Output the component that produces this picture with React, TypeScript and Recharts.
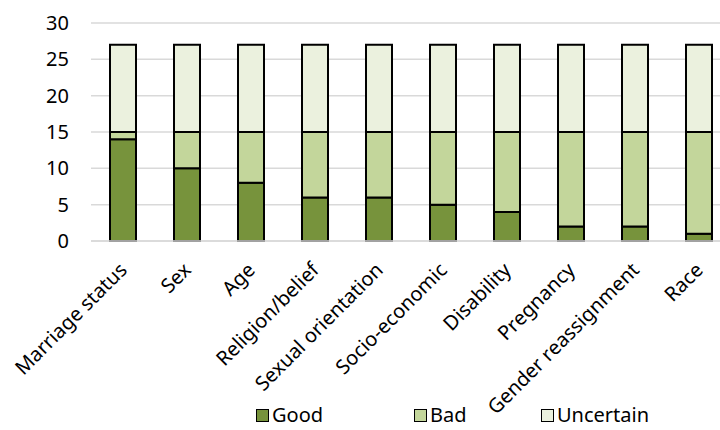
import React from 'react';
import { BarChart, Bar, XAxis, YAxis, CartesianGrid, Legend } from 'recharts';

const categories = [
    'Marriage status',
    'Sex',
    'Age',
    'Religion/belief',
    'Sexual orientation',
    'Socio-economic',
    'Disability',
    'Pregnancy',
    'Gender reassignment',
    'Race',
];
const good = [14, 10, 8, 6, 6, 5, 4, 2, 2, 1];
const bad = [1, 5, 7, 9, 9, 10, 11, 13, 13, 14];
const uncertain = [12, 12, 12, 12, 12, 12, 12, 12, 12, 12];
const yTicks = [0, 5, 10, 15, 20, 25, 30];

const series = [
    { key: 'good', name: 'Good', color: '#77933C', itemWidth: 158 },
    { key: 'bad', name: 'Bad', color: '#C3D69B', itemWidth: 127 },
    { key: 'uncertain', name: 'Uncertain', color: '#EBF1DE', itemWidth: 140 },
];

const data = categories.map((name, i) => ({
    name,
    good: good[i],
    bad: bad[i],
    uncertain: uncertain[i],
}));

const FONT = '"Noto Sans", sans-serif';

const AngledTick = ({ x, y, payload }: any) => (
    <g transform={`translate(${x + 1},${y + 18})`}>
        <text
            textAnchor="end"
            transform="rotate(-45)"
            fontSize={20}
            fontFamily={FONT}
            fill="#000"
            dy={6}
        >
            {payload.value}
        </text>
    </g>
);

const LegendBox = () => (
    <div
        style={{
            display: 'flex',
            paddingLeft: 256,
            paddingTop: 6,
            fontFamily: FONT,
            fontSize: 20,
            lineHeight: '22px',
            color: '#000',
        }}
    >
        {series.map((s) => (
            <div key={s.key} style={{ display: 'flex', alignItems: 'center', width: s.itemWidth }}>
                <span
                    style={{
                        width: 11,
                        height: 11,
                        background: s.color,
                        border: '1.5px solid #000',
                        marginRight: 3,
                        display: 'inline-block',
                    }}
                />
                <span>{s.name}</span>
            </div>
        ))}
    </div>
);

export default function App() {
    return (
        <div style={{ position: 'fixed', left: 0, top: 0, width: 720, height: 430, overflow: 'hidden', background: '#fff' }}>
            <BarChart
                width={760}
                height={430}
                data={data}
                margin={{ top: 23, right: 29, left: 0, bottom: 0 }}
                barSize={26}
            >
                <CartesianGrid vertical={false} stroke="#D9D9D9" strokeWidth={1.5} />
                <XAxis
                    dataKey="name"
                    interval={0}
                    height={157}
                    tickLine={false}
                    axisLine={{ stroke: '#D9D9D9', strokeWidth: 1.5 }}
                    tick={<AngledTick />}
                />
                <YAxis
                    width={91}
                    domain={[0, 30]}
                    ticks={yTicks}
                    tickLine={false}
                    axisLine={false}
                    tickSize={0}
                    tickMargin={22}
                    tick={{ fontSize: 20, fontFamily: FONT, fill: '#000' }}
                />
                <Legend verticalAlign="bottom" height={32} content={<LegendBox />} />
                {series.map((s) => (
                    <Bar
                        key={s.key}
                        dataKey={s.key}
                        name={s.name}
                        stackId="a"
                        fill={s.color}
                        stroke="#000"
                        strokeWidth={2}
                        isAnimationActive={false}
                    />
                ))}
            </BarChart>
        </div>
    );
}
